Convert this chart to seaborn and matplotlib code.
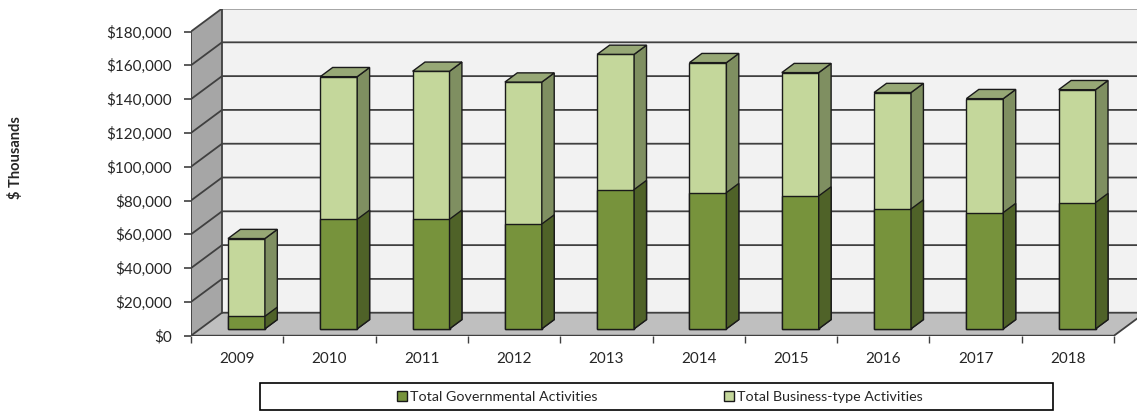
import matplotlib
matplotlib.use("Agg")
import matplotlib.pyplot as plt
from matplotlib.patches import Polygon, Rectangle, Patch
from matplotlib.ticker import FuncFormatter, FixedLocator
import seaborn as sns
import pandas as pd

# ---- data ----
years = ["2009", "2010", "2011", "2012", "2013", "2014", "2015", "2016", "2017", "2018"]
governmental = [7400, 64800, 64800, 62000, 82400, 80600, 78600, 70900, 68800, 74700]
business = [46000, 84400, 87600, 84000, 80000, 76900, 73000, 68900, 67400, 66800]
series_names = ["Total Governmental Activities", "Total Business-type Activities"]
y_ticks = list(range(0, 180001, 20000))

# ---- style ----
sns.set_theme(style="white")
plt.rcParams["font.family"] = ["Lato", "DejaVu Sans"]

gov_front, gov_side = "#77933c", "#4f6228"
biz_front, biz_side, biz_top = "#c4d79b", "#7f8f61", "#97a876"
edge = "#1a1a1a"
back_wall, left_wall, floor_c = "#f2f2f2", "#a6a6a6", "#bfbfbf"
grid_c = "#404040"

W, H = 1137, 412
fig = plt.figure(figsize=(W / 100, H / 100), dpi=100)

# geometry (oblique 3D)
DX, DY = 0.336, 13600          # full wall depth offset in data units
front_depth, bar_depth = 0.30, 0.40
bar_w = 0.40
n = len(years)
xmin, xmax = -0.5, n - 0.5
ytop = y_ticks[-1]

px_left, px_right = 191, 191 + (xmax + DX - xmin) * 92.3
px_y0, px_ytop = 335.7, 335.7 - (ytop + DY) / 20000 * 33.8
ax = fig.add_axes([px_left / W, (H - px_y0) / H, (px_right - px_left) / W, (px_y0 - px_ytop) / H])

total = [g + b for g, b in zip(governmental, business)]
df = pd.DataFrame({"year": years, "gov": governmental, "total": total})

sns.barplot(data=df, x="year", y="total", color=biz_front, saturation=1, errorbar=None,
            width=bar_w, edgecolor=edge, linewidth=1.0, ax=ax, zorder=3)
sns.barplot(data=df, x="year", y="gov", color=gov_front, saturation=1, errorbar=None,
            width=bar_w, edgecolor=edge, linewidth=1.0, ax=ax, zorder=4)

# walls and floor
ax.add_patch(Polygon([(xmin, 0), (xmax, 0), (xmax + DX, DY), (xmin + DX, DY)],
                     closed=True, facecolor=floor_c, edgecolor="none", zorder=0))
ax.add_patch(Polygon([(xmin + DX, DY), (xmax + DX, DY), (xmax + DX, ytop + DY), (xmin + DX, ytop + DY)],
                     closed=True, facecolor=back_wall, edgecolor="none", zorder=0))
ax.add_patch(Polygon([(xmin, 0), (xmin + DX, DY), (xmin + DX, ytop + DY), (xmin, ytop)],
                     closed=True, facecolor=left_wall, edgecolor="none", zorder=0))
for v in y_ticks:
    ax.plot([xmin, xmin + DX, xmax + DX], [v, v + DY, v + DY], color=grid_c, lw=1.3, zorder=1,
            solid_capstyle="butt")
ax.plot([xmin + DX, xmin + DX], [DY, ytop + DY], color=grid_c, lw=1.3, zorder=1)
ax.plot([xmin, xmin], [0, ytop], color=grid_c, lw=1.3, zorder=2)
ax.plot([xmin, xmax, xmax + DX], [0, 0, DY], color=grid_c, lw=1.3, zorder=2)

# shift bars to their depth and add side / top faces
fdx, fdy = front_depth * DX, front_depth * DY
bdx, bdy = bar_depth * DX, bar_depth * DY
for ci, (cont, side_c) in enumerate(zip(ax.containers[:2], [biz_side, gov_side])):
    z = 3 + ci
    for p in cont.patches:
        p.set_x(p.get_x() + fdx)
        p.set_y(p.get_y() + fdy)
        x, y, w, h = p.get_x(), p.get_y(), p.get_width(), p.get_height()
        ax.add_patch(Polygon([(x + w, y), (x + w + bdx, y + bdy), (x + w + bdx, y + h + bdy), (x + w, y + h)],
                             closed=True, facecolor=side_c, edgecolor=edge, lw=1.0, zorder=z))
        if ci == 0:
            ax.add_patch(Polygon([(x, y + h), (x + w, y + h), (x + w + bdx, y + h + bdy), (x + bdx, y + h + bdy)],
                                 closed=True, facecolor=biz_top, edgecolor=edge, lw=1.0, zorder=z))

ax.set_xlim(xmin, xmax + DX)
ax.set_ylim(0, ytop + DY)
for s in ax.spines.values():
    s.set_visible(False)
ax.set_xlabel("")
ax.set_ylabel("")

ax.yaxis.set_major_locator(FixedLocator(y_ticks))
ax.yaxis.set_major_formatter(FuncFormatter(lambda v, pos: f"${v:,.0f}"))
ax.tick_params(axis="y", left=True, length=5, width=1.2, color=grid_c, pad=9,
               labelsize=11, labelcolor="#262626")

ax.xaxis.set_major_locator(FixedLocator([i - 0.5 for i in range(n + 1)]))
ax.xaxis.set_major_formatter(FuncFormatter(lambda v, pos: ""))
ax.xaxis.set_minor_locator(FixedLocator(list(range(n))))
ax.xaxis.set_minor_formatter(FuncFormatter(lambda v, pos: years[int(round(v))]))
ax.tick_params(axis="x", which="major", bottom=True, length=5, width=1.0, color=grid_c)
ax.tick_params(axis="x", which="minor", bottom=True, length=0, pad=12, labelsize=11,
               labelcolor="#262626")

fig.text(16 / W, 1 - 158 / H, "$ Thousands", rotation=90, fontweight="bold", fontsize=10.5,
         ha="center", va="center", color="#262626")

# legend
fig.add_artist(Rectangle((260 / W, 2 / H), 793 / W, 27 / H,
                         transform=fig.transFigure, fill=False, edgecolor="black", lw=1.2))
handles = [Patch(facecolor=gov_front, edgecolor=edge, lw=1.0),
           Patch(facecolor=biz_front, edgecolor=edge, lw=1.0)]
fig.legend(handles, series_names, loc="center", bbox_to_anchor=(660 / W, 1 - 397 / H), ncol=2,
           frameon=False, fontsize=10.3, handlelength=0.7, handleheight=0.7, handletextpad=0.25,
           columnspacing=8.8, labelcolor="#262626", borderpad=0, borderaxespad=0)

fig.savefig("out.png", dpi=100)
